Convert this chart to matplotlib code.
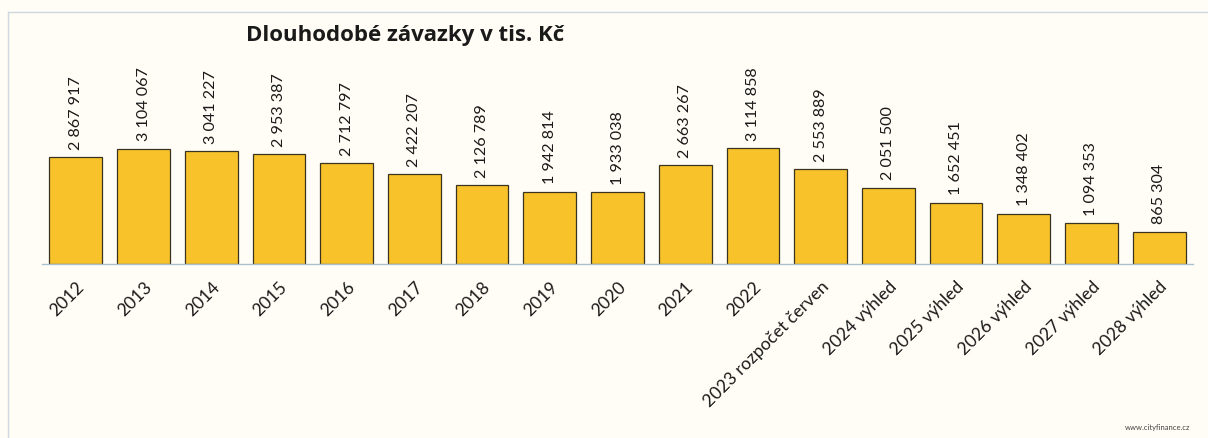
import matplotlib
matplotlib.use("Agg")
import matplotlib.pyplot as plt
from matplotlib.lines import Line2D

categories = ["2012", "2013", "2014", "2015", "2016", "2017", "2018", "2019",
              "2020", "2021", "2022", "2023 rozpočet červen", "2024 výhled",
              "2025 výhled", "2026 výhled", "2027 výhled", "2028 výhled"]
values = [2867917, 3104067, 3041227, 2953387, 2712797, 2422207, 2126789,
          1942814, 1933038, 2663267, 3114858, 2553889, 2051500, 1652451,
          1348402, 1094353, 865304]
title = "Dlouhodobé závazky v tis. Kč"
source = "www.cityfinance.cz"

bg = "#fffdf5"
bar_color = "#f7c22a"
font = ["Lato", "DejaVu Sans"]

W, H = 1208, 439
fig = plt.figure(figsize=(W / 100, H / 100), dpi=100, facecolor=bg)

# light frame lines (top and left) around the chart area
frame_kw = dict(transform=fig.transFigure, color="#cdd8e0", linewidth=1.0)
fig.add_artist(Line2D([8 / W, 1.0], [1 - 13 / H] * 2, **frame_kw))
fig.add_artist(Line2D([8 / W] * 2, [0.0, 1 - 13 / H], **frame_kw))

ax = fig.add_axes([42 / W, 1 - 265 / H, (1193 - 42) / W, (265 - 60) / H])
ax.set_facecolor(bg)

x = range(len(categories))
ax.bar(x, values, width=0.78, color=bar_color, edgecolor="#3a3320",
       linewidth=0.9, zorder=2)

for xi, v in zip(x, values):
    ax.annotate(f"{v:,}".replace(",", " "), (xi, v), xytext=(0, 6),
                textcoords="offset points", rotation=90, ha="center",
                va="bottom", fontsize=11.6, family=font, color="#1a1a1a")

ax.set_xlim(-0.5, len(categories) - 0.5)
ax.set_ylim(0, 5.51e6)
ax.set_yticks([])
ax.set_xticks(list(x))
ax.set_xticklabels(categories, rotation=45, ha="right",
                   rotation_mode="anchor", fontsize=12.6, family=font,
                   color="#1a1a1a")
ax.tick_params(axis="x", length=0, pad=10)
for side in ("top", "right", "left"):
    ax.spines[side].set_visible(False)
ax.spines["bottom"].set_color("#a9c1cf")
ax.spines["bottom"].set_linewidth(1.0)

fig.text(405 / W, 1 - 36 / H, title, ha="center", va="center",
         fontsize=16, fontweight="bold", family=["Open Sans", "DejaVu Sans"],
         color="#1a1a1a")
fig.text(1190 / W, 1 - 428 / H, source, ha="right", va="center",
         fontsize=5.5, family=font, color="#444444")

fig.savefig("out.png", dpi=100, facecolor=bg)
